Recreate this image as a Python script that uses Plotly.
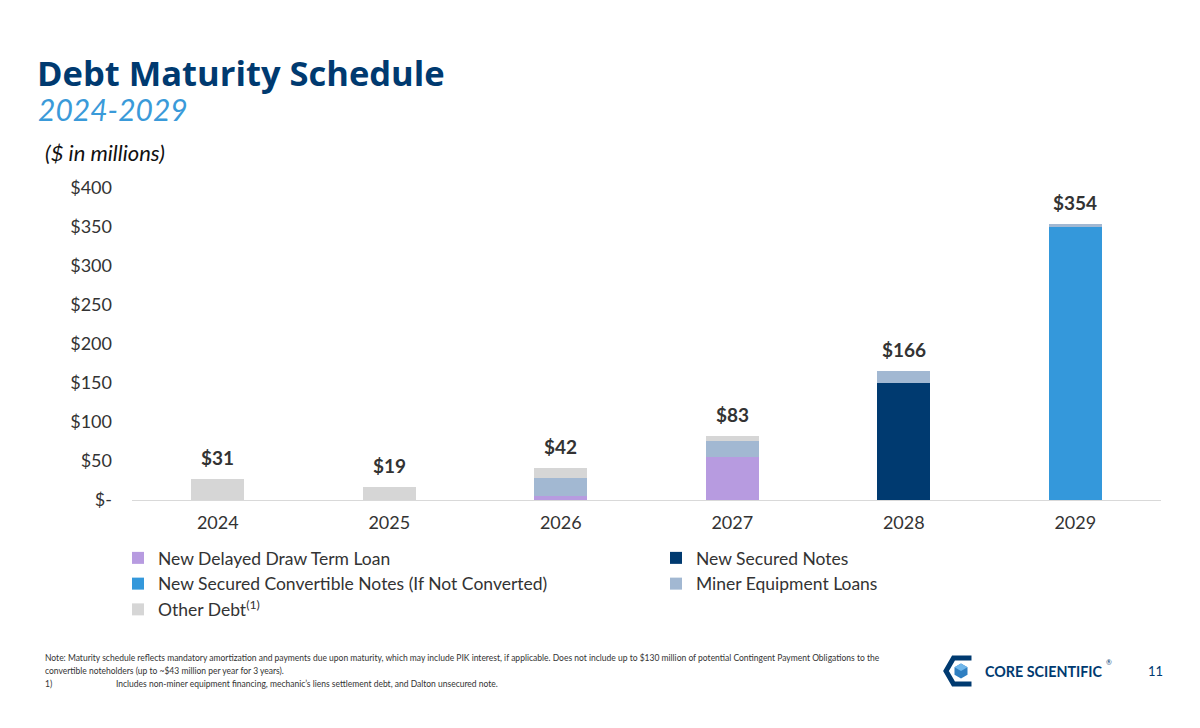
import plotly.graph_objects as go

years = ["2024", "2025", "2026", "2027", "2028", "2029"]
ddtl = [0, 0, 5, 55.5, 0, 0]
secured_notes = [0, 0, 0, 0, 150, 0]
convertible = [0, 0, 0, 0, 0, 350]
miner_loans = [0, 0, 23.5, 20.5, 16, 4]
other_debt = [27, 17, 13, 6, 0, 0]
total_labels = ["$31", "$19", "$42", "$83", "$166", "$354"]

y_tickvals = [0, 50, 100, 150, 200, 250, 300, 350, 400]
y_ticktext = ["$-", "$50", "$100", "$150", "$200", "$250", "$300", "$350", "$400"]

# (name, values, colour, legend column)
series = [
    ("New Delayed Draw Term Loan", ddtl, "#B79BE0", "legend"),
    ("New Secured Notes", secured_notes, "#003A70", "legend2"),
    ("New Secured Convertible Notes (If Not Converted)", convertible, "#3498DB", "legend"),
    ("Miner Equipment Loans", miner_loans, "#A2B8D2", "legend2"),
    ("Other Debt<sup>(1)</sup>", other_debt, "#D6D6D6", "legend"),
]

FONT = "Lato"
TXT = "#333333"
NAVY = "#003A70"

fig = go.Figure()
for name, vals, color, lg in series:
    fig.add_trace(go.Bar(x=years, y=vals, name=name, legend=lg,
                         marker=dict(color=color, line=dict(width=0))))

# plot area geometry (pixels)
L, R, T, B = 132, 1161, 188, 500
W, H = R - L, B - T

def px(x):
    return (x - L) / W

def py(y):
    return (B - y) / H

totals = [sum(v) for v in zip(ddtl, secured_notes, convertible, miner_loans, other_debt)]
annotations = []
for i, (tot, lab) in enumerate(zip(totals, total_labels)):
    annotations.append(dict(x=i, y=tot, xref="x", yref="y", text="<b>" + lab + "</b>",
                            showarrow=False, yanchor="bottom", yshift=8,
                            font=dict(family=FONT, size=19, color=TXT)))

def ptext(x, y, text, size, color=TXT, xanchor="left", yanchor="middle", family=FONT):
    annotations.append(dict(x=px(x), y=py(y), xref="paper", yref="paper", text=text,
                            showarrow=False, xanchor=xanchor, yanchor=yanchor,
                            font=dict(family=family, size=size, color=color)))

ptext(35, 72, "<b>Debt Maturity Schedule</b>", 34.5, NAVY, family="Open Sans")
ptext(36, 109, "<i>2024-2029</i>", 30, "#3A9AD9")
ptext(43, 152, "<i>($ in millions)</i>", 22, "#111111")

ptext(43, 658, "Note: Maturity schedule reflects mandatory amortization and payments due upon maturity, which may include PIK interest, if applicable. Does not include up to $130 million of potential Contingent Payment Obligations to the", 8.5)
ptext(43, 671, "convertible noteholders (up to ~$43 million per year for 3 years).", 8.5)
ptext(43, 684, "1)", 8.5)
ptext(114, 684, "Includes non-miner equipment financing, mechanic\u2019s liens settlement debt, and Dalton unsecured note.", 8.5)

ptext(983, 671, "<b>CORE SCIENTIFIC</b>", 14.3, NAVY)
ptext(1104, 662, "\u00ae", 7, NAVY)
ptext(1155, 671, "11", 13, NAVY, xanchor="center")

# logo: hexagon "C" and cube
cx, cy, r = 961, 671, 15
h = 0.866 * r
pts = [(cx + r * 0.5 + 3, cy - h), (cx - r * 0.5, cy - h), (cx - r, cy),
       (cx - r * 0.5, cy + h), (cx + r * 0.5 + 3, cy + h)]
path = "M " + " L ".join(f"{px(x):.5f},{py(y):.5f}" for x, y in pts)
shapes = [dict(type="path", xref="paper", yref="paper", path=path,
               line=dict(color=NAVY, width=5), fillcolor="rgba(0,0,0,0)")]
cr = 7.5
cube = [(cx, cy - cr), (cx + 0.866 * cr, cy - cr / 2), (cx + 0.866 * cr, cy + cr / 2),
        (cx, cy + cr), (cx - 0.866 * cr, cy + cr / 2), (cx - 0.866 * cr, cy - cr / 2)]
cpath = "M " + " L ".join(f"{px(x):.5f},{py(y):.5f}" for x, y in cube) + " Z"
shapes.append(dict(type="path", xref="paper", yref="paper", path=cpath,
                   line=dict(width=0), fillcolor="#2F7FC1"))
top = [(cx, cy - cr), (cx + 0.866 * cr, cy - cr / 2), (cx, cy), (cx - 0.866 * cr, cy - cr / 2)]
tpath = "M " + " L ".join(f"{px(x):.5f},{py(y):.5f}" for x, y in top) + " Z"
shapes.append(dict(type="path", xref="paper", yref="paper", path=tpath,
                   line=dict(width=0), fillcolor="#6FB6EA"))

legend_common = dict(orientation="v", yanchor="top", y=py(540),
                     itemwidth=30, font=dict(family=FONT, size=17.5, color=TXT),
                     traceorder="normal", itemclick=False, itemdoubleclick=False,
                     bgcolor="rgba(0,0,0,0)")

fig.update_layout(
    barmode="stack",
    bargap=0.69,
    width=1200, height=728,
    margin=dict(l=L, r=1200 - R, t=T, b=728 - B, pad=0, autoexpand=False),
    paper_bgcolor="white", plot_bgcolor="white",
    font=dict(family=FONT, color=TXT),
    showlegend=True,
    legend=dict(x=px(118), xanchor="left", **legend_common),
    legend2=dict(x=px(656), xanchor="left", **legend_common),
    annotations=annotations,
    shapes=shapes,
    xaxis=dict(type="category", range=[-0.5, 5.5], showgrid=False, zeroline=False,
               showline=False, ticks="", tickfont=dict(family=FONT, size=18, color=TXT),
               ticklabelstandoff=10),
    yaxis=dict(range=[0, 400], tickvals=y_tickvals, ticktext=y_ticktext, showgrid=False,
               zeroline=True, zerolinecolor="#D9D9D9", zerolinewidth=1, showline=False,
               ticks="", tickfont=dict(family=FONT, size=18, color=TXT), ticklabelstandoff=19),
)

fig.write_html("out.html", config={"displayModeBar": False},
               post_script="document.body.style.margin='0';")
